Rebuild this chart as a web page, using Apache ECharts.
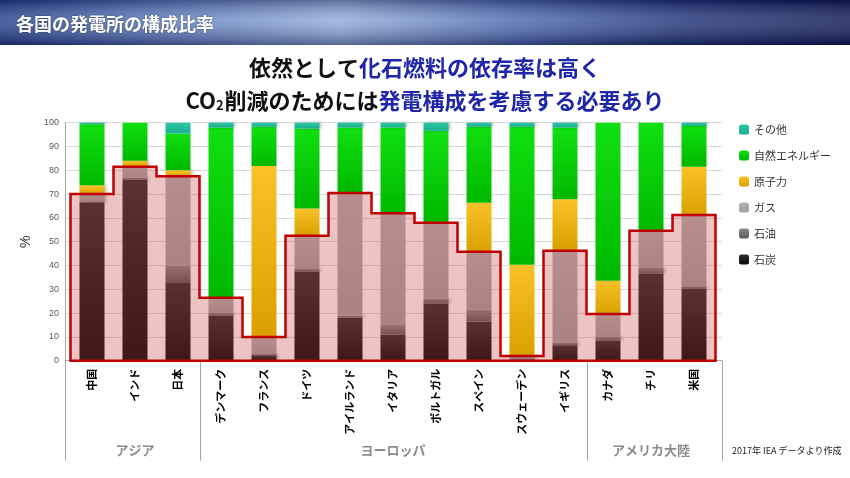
<!DOCTYPE html>
<html>
<head>
<meta charset="utf-8">
<script src="https://cdn.jsdelivr.net/npm/echarts@6/dist/echarts.min.js"></script>
<style>
  html, body { margin: 0; padding: 0; background: #fff; }
  #main { width: 850px; height: 478px; }
</style>
</head>
<body>
<div id="main"></div>
<script>
// 各国の発電構成 (%), IEA 2017
const categories = ['中国', 'インド', '日本', 'デンマーク', 'フランス', 'ドイツ', 'アイルランド', 'イタリア',
  'ポルトガル', 'スペイン', 'スウェーデン', 'イギリス', 'カナダ', 'チリ', '米国']
const coal    = [66.5, 76, 33, 19, 2, 37.5, 18, 11, 24, 16.5, 0.5, 6.5, 8.5, 36.5, 30.3]
const oil     = [0.5, 1, 7, 1, 1, 1, 1, 4, 2, 5, 0.5, 1, 1.5, 2.5, 1]
const gas     = [3, 4.5, 37.5, 6.5, 7, 14, 51.5, 47, 32, 24.3, 1, 38.7, 9.6, 15.6, 29.9]
const nuclear = [3.7, 2.5, 2.5, 0, 71.8, 11.5, 0, 0, 0, 20.6, 38.3, 21.6, 14, 0, 20.3]
const renew   = [25.6, 16, 15.5, 71.5, 16.5, 33.6, 27.5, 36, 38.6, 31.9, 58, 30.2, 66.4, 45.4, 17.1]
const other   = [0.7, 0, 4.5, 2, 1.7, 2.4, 2, 2, 3.4, 1.7, 1.7, 2, 0, 0, 1.4]
const yTicks  = [0, 10, 20, 30, 40, 50, 60, 70, 80, 90, 100]
const groups  = [
  { name: 'アジア', from: 0, to: 2 },
  { name: 'ヨーロッパ', from: 3, to: 11 },
  { name: 'アメリカ大陸', from: 12, to: 14 }
]

// 化石燃料の合計 (石炭 + 石油 + ガス)
const fossil = coal.map(function (v, i) { return +(v + oil[i] + gas[i]).toFixed(1) })

const JP = '"Noto Sans CJK JP", sans-serif'

function vgrad(top, bottom) {
  return new echarts.graphic.LinearGradient(0, 0, 0, 1, [
    { offset: 0, color: top },
    { offset: 1, color: bottom }
  ])
}

function barSeries(name, data, top, bottom) {
  return {
    name: name,
    type: 'bar',
    stack: 'total',
    xAxisIndex: 0,
    yAxisIndex: 0,
    barWidth: 25,
    data: data,
    itemStyle: {
      color: vgrad(top, bottom),
      shadowColor: 'rgba(0,0,0,0.25)',
      shadowBlur: 3,
      shadowOffsetX: 2
    },
    emphasis: { disabled: true }
  }
}

const chart = echarts.init(document.getElementById('main'))

const option = {
  animation: false,
  backgroundColor: '#fff',
  title: [
    {
      text: '各国の発電所の構成比率',
      left: 11,
      top: 10,
      textStyle: { color: '#fff', fontSize: 18, fontWeight: 'bold', fontFamily: JP,
        textShadowColor: 'rgba(0,0,0,0.5)', textShadowBlur: 2 }
    },
    {
      text: '{k|依然として}{b|化石燃料の依存率は高く}',
      left: 'center',
      top: 52,
      textStyle: {
        rich: {
          k: { fontSize: 22, fontWeight: 'bold', color: '#111', fontFamily: JP },
          b: { fontSize: 22, fontWeight: 'bold', color: '#1f26a8', fontFamily: JP }
        }
      }
    },
    {
      text: '{k|CO}{s|2}{k|削減のためには}{b|発電構成を考慮する必要あり}',
      left: 'center',
      top: 85,
      textStyle: {
        rich: {
          k: { fontSize: 22, fontWeight: 'bold', color: '#111', fontFamily: JP },
          s: { fontSize: 13, fontWeight: 'bold', color: '#111', fontFamily: JP, verticalAlign: 'bottom', padding: [8, 1, 0, 0] },
          b: { fontSize: 22, fontWeight: 'bold', color: '#1f26a8', fontFamily: JP }
        }
      }
    }
  ],
  legend: {
    orient: 'vertical',
    left: 734,
    top: 119,
    itemWidth: 10,
    itemHeight: 10,
    itemGap: 15,
    data: ['その他', '自然エネルギー', '原子力', 'ガス', '石油', '石炭'],
    textStyle: { fontSize: 11, color: '#333', fontFamily: JP }
  },
  grid: [
    { left: 70.5, right: 134.5, top: 122.7, bottom: 117.3 },
    { left: 65, right: 128, top: 122.7, bottom: 117.3 }
  ],
  xAxis: [
    {
      type: 'category',
      gridIndex: 0,
      data: categories,
      axisLine: { show: false },
      axisTick: { show: false },
      axisLabel: {
        rotate: 90,
        margin: 8,
        fontSize: 11,
        fontWeight: 'bold',
        color: '#000',
        fontFamily: JP
      }
    },
    {
      type: 'value',
      gridIndex: 1,
      min: 0,
      max: 1,
      axisLine: { show: true, lineStyle: { color: '#a6a6a6', width: 1 } },
      axisTick: { show: false },
      axisLabel: { show: false },
      splitLine: { show: false }
    }
  ],
  yAxis: [
    {
      type: 'value',
      gridIndex: 0,
      min: 0,
      max: 100,
      interval: 10,
      show: false,
      splitLine: { show: false }
    },
    {
      type: 'value',
      gridIndex: 1,
      min: yTicks[0],
      max: yTicks[yTicks.length - 1],
      interval: 10,
      name: '%',
      nameLocation: 'middle',
      nameRotate: 90,
      nameGap: 20,
      nameTextStyle: { fontSize: 14, color: '#333', fontFamily: 'Liberation Sans' },
      axisLine: { show: true, lineStyle: { color: '#a6a6a6' } },
      axisTick: { show: false },
      axisLabel: { fontSize: 9, color: '#595959', margin: 6, fontFamily: 'Liberation Sans' },
      splitLine: { show: true, lineStyle: { color: '#d9d9d9', width: 1 } }
    }
  ],
  series: [
    barSeries('石炭', coal, '#2e2e2e', '#080808'),
    barSeries('石油', oil, '#8a8a8a', '#5a5a5a'),
    barSeries('ガス', gas, '#b2b2b2', '#a2a2a2'),
    barSeries('原子力', nuclear, '#fac228', '#d9a000'),
    barSeries('自然エネルギー', renew, '#10e010', '#00b800'),
    barSeries('その他', other, '#2cc8a6', '#18b090'),
    {
      name: '化石燃料',
      type: 'custom',
      xAxisIndex: 0,
      yAxisIndex: 0,
      z: 5,
      clip: false,
      silent: true,
      data: fossil.map(function (v, i) { return [i, v] }),
      encode: { x: 0, y: 1 },
      renderItem: function (params, api) {
        if (params.dataIndex !== 0) return
        const half = api.size([1, 0])[0] / 2
        const pts = []
        const start = api.coord([0, 0])
        pts.push([start[0] - half, start[1]])
        for (let i = 0; i < fossil.length; i++) {
          const p = api.coord([i, fossil[i]])
          pts.push([p[0] - half, p[1]])
          pts.push([p[0] + half, p[1]])
        }
        const end = api.coord([fossil.length - 1, 0])
        pts.push([end[0] + half, end[1]])
        return {
          type: 'polygon',
          shape: { points: pts },
          style: {
            fill: 'rgba(192,58,58,0.3)',
            stroke: '#c00000',
            lineWidth: 2.5,
            lineJoin: 'miter'
          }
        }
      }
    }
  ]
}

chart.setOption(option)

// ヘッダー帯・グループ区切り・出典
const x0 = chart.convertToPixel({ xAxisIndex: 0 }, categories[0])
const xN = chart.convertToPixel({ xAxisIndex: 0 }, categories[categories.length - 1])
const catW = (xN - x0) / (categories.length - 1)
const axisY = chart.convertToPixel({ yAxisIndex: 1 }, 0)
const outerL = chart.convertToPixel({ xAxisIndex: 1 }, 0)
const outerR = chart.convertToPixel({ xAxisIndex: 1 }, 1)
const lineBottom = axisY + 100

const graphics = [
  {
    type: 'rect',
    z: -10,
    shape: { x: 0, y: 0, width: 850, height: 45 },
    style: {
      fill: new echarts.graphic.LinearGradient(0, 0, 1, 0, [
        { offset: 0, color: '#22408a' },
        { offset: 0.2, color: '#5d7dbf' },
        { offset: 0.4, color: '#92abd9' },
        { offset: 0.6, color: '#4c6bb0' },
        { offset: 0.8, color: '#1f3378' },
        { offset: 1, color: '#0b1852' }
      ])
    }
  },
  {
    type: 'rect',
    z: -9,
    shape: { x: 0, y: 0, width: 850, height: 45 },
    style: {
      fill: new echarts.graphic.LinearGradient(0, 0, 0, 1, [
        { offset: 0, color: 'rgba(0,0,40,0.35)' },
        { offset: 0.45, color: 'rgba(255,255,255,0.18)' },
        { offset: 1, color: 'rgba(0,0,40,0.4)' }
      ])
    }
  },
  {
    type: 'text',
    left: 732,
    top: 446,
    style: { text: '2017年 IEA データより作成', fontSize: 9, fill: '#222', fontFamily: JP }
  }
]

const dividers = [outerL, outerR]
groups.forEach(function (g, gi) {
  const a = x0 + (g.from - 0.5) * catW
  const b = x0 + (g.to + 0.5) * catW
  if (gi > 0) dividers.push(a)
  graphics.push({
    type: 'text',
    x: (a + b) / 2,
    y: 450,
    style: {
      text: g.name,
      fontSize: 13,
      fontWeight: 'bold',
      fill: '#8c8c8c',
      fontFamily: JP,
      align: 'center',
      verticalAlign: 'middle'
    }
  })
})
dividers.forEach(function (x) {
  graphics.push({
    type: 'line',
    shape: { x1: Math.round(x) + 0.5, y1: axisY, x2: Math.round(x) + 0.5, y2: lineBottom },
    style: { stroke: '#a6a6a6', lineWidth: 1 }
  })
})

chart.setOption({ graphic: graphics })
</script>
</body>
</html>
